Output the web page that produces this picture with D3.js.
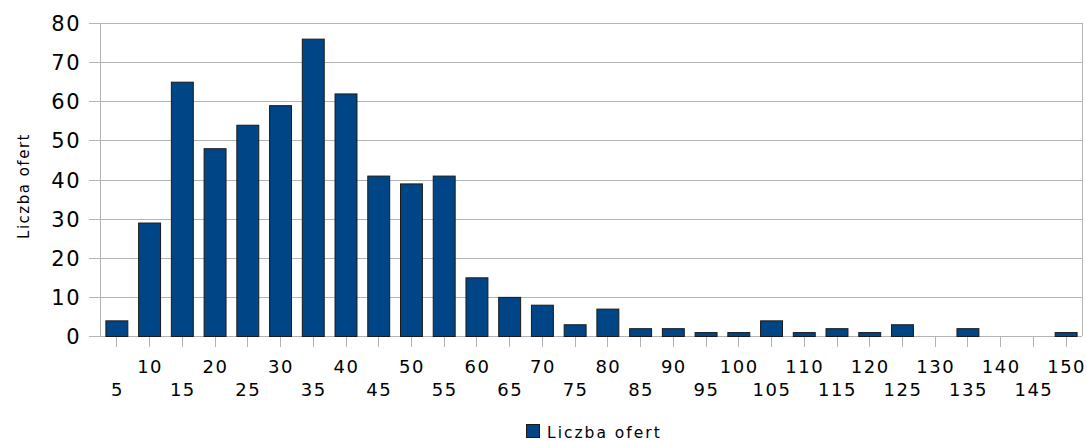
<!DOCTYPE html>
<html><head><meta charset="utf-8">
<script src="https://cdn.jsdelivr.net/npm/d3@7"></script>
<style>
html,body{margin:0;padding:0;background:#fff;}
svg{display:block;font-family:"DejaVu Sans",sans-serif;}
</style></head>
<body><svg id="c" width="1087" height="441"></svg>
<script>
const categories = ["5","10","15","20","25","30","35","40","45","50","55","60","65","70","75","80","85","90","95","100","105","110","115","120","125","130","135","140","145","150"];
const values = [4,29,65,48,54,59,76,62,41,39,41,15,10,8,3,7,2,2,1,1,4,1,2,1,3,0,2,0,0,1];
const yTicks = [0,10,20,30,40,50,60,70,80];
const seriesName = "Liczba ofert";
const axisTitle = "Liczba ofert";

const svg = d3.select("#c");
const L = 100, R = 1082, T = 23, B = 336;
const x = d3.scaleBand().domain(categories).range([L, R]).paddingInner(0.33).paddingOuter(0.165);
const xc = d3.scalePoint().domain(categories).range([L, R]).padding(0.5);
const y = d3.scaleLinear().domain([0, 80]).range([B, T]);

// gridlines
svg.append("g").selectAll("line").data(yTicks).join("line")
  .attr("x1", L - 11).attr("x2", R).attr("y1", d => Math.round(y(d)) + 0.5).attr("y2", d => Math.round(y(d)) + 0.5)
  .attr("stroke", "#b3b3b3").attr("stroke-width", 1);
// left & right border
svg.append("line").attr("x1", L + 0.5).attr("x2", L + 0.5).attr("y1", T).attr("y2", B).attr("stroke", "#b3b3b3");
svg.append("line").attr("x1", R + 0.5).attr("x2", R + 0.5).attr("y1", T).attr("y2", B).attr("stroke", "#b3b3b3");

// y labels
svg.append("g").selectAll("text").data(yTicks).join("text")
  .attr("x", 81).attr("y", d => y(d) + 8).attr("text-anchor", "end")
  .attr("font-size", 21).attr("letter-spacing", 1.5).attr("fill", "#000").text(d => d);

// x ticks
svg.append("g").selectAll("line").data(categories).join("line")
  .attr("x1", d => Math.round(xc(d)) + 0.5).attr("x2", d => Math.round(xc(d)) + 0.5)
  .attr("y1", B).attr("y2", B + 11).attr("stroke", "#b3b3b3");

// bars
svg.append("g").selectAll("rect").data(values).join("rect")
  .attr("x", (d, i) => x(categories[i]) + 0.5)
  .attr("y", d => y(d) + 0.5)
  .attr("width", x.bandwidth())
  .attr("height", d => B - y(d))
  .attr("fill", "#004586").attr("stroke", "#1a1a1a").attr("stroke-width", 1)
  .attr("display", d => d > 0 ? null : "none");

// x labels, staggered
svg.append("g").selectAll("text").data(categories).join("text")
  .attr("x", d => xc(d) + 1).attr("y", (d, i) => i % 2 === 1 ? 373 : 396)
  .attr("text-anchor", "middle").attr("font-size", 18).attr("letter-spacing", 1.5).attr("fill", "#000")
  .text(d => d);

// y axis title
svg.append("text").attr("transform", "translate(29,186) rotate(-90)")
  .attr("text-anchor", "middle").attr("font-size", 15).attr("letter-spacing", 1.5).attr("fill", "#000").text(axisTitle);

// legend
svg.append("rect").attr("x", 526.5).attr("y", 424.5).attr("width", 13).attr("height", 13)
  .attr("fill", "#004586").attr("stroke", "#1a1a1a");
svg.append("text").attr("x", 547).attr("y", 437.5).attr("font-size", 15.5).attr("letter-spacing", 2).attr("fill", "#000").text(seriesName);
</script></body></html>
